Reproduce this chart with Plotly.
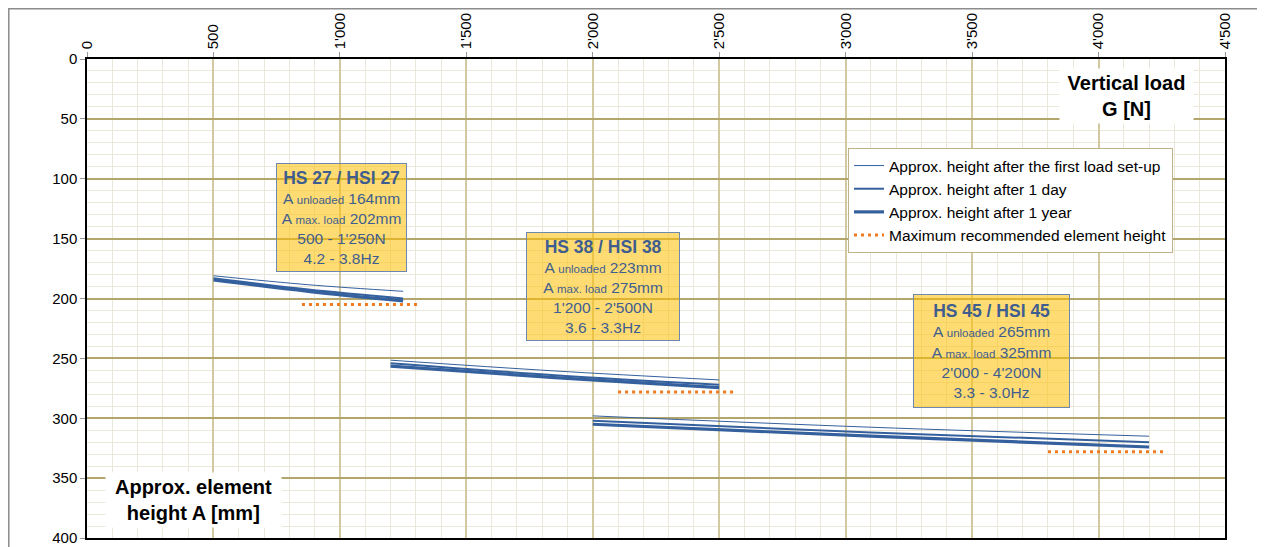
import plotly.graph_objects as go

# ---------------- data ----------------
load_27 = [500, 875, 1250]
first_27 = [181, 188.5, 194]
day_27 = [183, 192.5, 200]
year_27 = [184.5, 194, 202]

load_38 = [1200, 1850, 2500]
first_38 = [251.5, 260.5, 268]
day_38 = [254, 264, 272]
year_38 = [256.5, 266, 274.5]

load_45 = [2000, 3100, 4200]
first_45 = [298, 307.5, 315]
day_45 = [302, 312, 320]
year_45 = [305, 315, 324]

max_load_27 = [850, 1320]
max_height_27 = [205, 205]
max_load_38 = [2100, 2570]
max_height_38 = [278, 278]
max_load_45 = [3800, 4270]
max_height_45 = [328, 328]

x_tickvals = [0, 500, 1000, 1500, 2000, 2500, 3000, 3500, 4000, 4500]
x_ticktext = ["0", "500", "1'000", "1'500", "2'000", "2'500", "3'000", "3'500", "4'000", "4'500"]
y_tickvals = [0, 50, 100, 150, 200, 250, 300, 350, 400]

series_names = ["Approx. height after the first load set-up",
                "Approx. height after 1 day",
                "Approx. height after 1 year",
                "Maximum recommended element height"]

box_titles = ["HS 27 / HSI 27", "HS 38 / HSI 38", "HS 45 / HSI 45"]
box_unloaded = ["164mm", "223mm", "265mm"]
box_maxload = ["202mm", "275mm", "325mm"]
box_range = ["500 - 1'250N", "1'200 - 2'500N", "2'000 - 4'200N"]
box_freq = ["4.2 - 3.8Hz", "3.6 - 3.3Hz", "3.3 - 3.0Hz"]
box_x = [1008, 2042, 3578]
box_y = [132.5, 190, 244]

# ---------------- figure ----------------
FONT = "Liberation Sans, Arial, sans-serif"
BLUE = "#35609E"
ORANGE = "#EE7B22"
TXT = "#3F5E8F"

# page body has an 8px margin; figure is sized so the plot area lands
# where the reference has it
W, H = 1257, 539
L, T, R, B = 79, 51, 40, 9
PW, PH = W - L - R, H - T - B  # 1138 x 479

fig = go.Figure()

groups = [
    (load_27, first_27, day_27, year_27, max_load_27, max_height_27),
    (load_38, first_38, day_38, year_38, max_load_38, max_height_38),
    (load_45, first_45, day_45, year_45, max_load_45, max_height_45),
]
widths = [1, 2, 3.2]
for gi, (lx, f, d, yv, mx, my) in enumerate(groups):
    for si, ys in enumerate([f, d, yv]):
        fig.add_trace(go.Scatter(
            x=lx, y=ys, mode="lines", name=series_names[si],
            legendgroup=str(si), showlegend=(gi == 0),
            line=dict(color=BLUE, width=widths[si], shape="spline"),
            hoverinfo="skip"))
    fig.add_trace(go.Scatter(
        x=mx, y=my, mode="lines", name=series_names[3],
        legendgroup="3", showlegend=(gi == 0),
        line=dict(color=ORANGE, width=3, dash="3px,4px"),
        hoverinfo="skip"))

annotations = []
for i in range(3):
    txt = (f"<span style='font-size:17.5px'><b>{box_titles[i]}</b></span><br>"
           f"A <span style='font-size:11.5px'>unloaded</span> {box_unloaded[i]}<br>"
           f"A <span style='font-size:11.5px'>max. load</span> {box_maxload[i]}<br>"
           f"{box_range[i]}<br>{box_freq[i]}")
    w = [129, 152, 155][i]
    h = [107, 107, 112][i]
    annotations.append(dict(
        x=box_x[i], y=box_y[i], xref="x", yref="y", text=txt, showarrow=False,
        font=dict(family=FONT, size=15.5, color=TXT),
        bgcolor="rgba(255,192,0,0.55)", bordercolor="#6F88AE", borderwidth=1,
        width=w, height=h, align="center", valign="middle", borderpad=0))

annotations.append(dict(
    x=4112, y=31, xref="x", yref="y",
    text="<b>Vertical load<br>G [N]</b>", showarrow=False,
    font=dict(family=FONT, size=20, color="black"),
    bgcolor="white", width=133, height=54, borderpad=0))
annotations.append(dict(
    x=423, y=368, xref="x", yref="y",
    text="<b>Approx. element<br>height A [mm]</b>", showarrow=False,
    font=dict(family=FONT, size=20, color="black"),
    bgcolor="white", width=175, height=54, borderpad=0))

shapes = [
    dict(type="rect", xref="paper", yref="paper",
         x0=(0.8 - L) / PW, x1=(1254 - L) / PW,
         y0=-0.05, y1=1 + (T - 0.8) / PH,
         line=dict(color="#8C8C8C", width=1.5), layer="below"),
    dict(type="line", xref="paper", yref="paper",
         x0=(1255 - L) / PW, x1=(1255 - L) / PW,
         y0=-0.05, y1=1 + (T - 6) / PH,
         line=dict(color="#222222", width=2)),
]

fig.update_layout(
    width=W, height=H,
    margin=dict(l=L, r=R, t=T, b=B, autoexpand=False),
    paper_bgcolor="white", plot_bgcolor="white",
    font=dict(family=FONT, size=15, color="black"),
    showlegend=True,
    legend=dict(
        x=(848 - 87) / PW, y=1 - (148 - 59) / PH,
        xanchor="left", yanchor="top",
        bgcolor="white", bordercolor="#BFB38A", borderwidth=1,
        font=dict(family=FONT, size=15.5, color="black"),
        itemwidth=30, tracegroupgap=0, traceorder="normal"),
    annotations=annotations,
    shapes=shapes,
)

fig.update_xaxes(
    side="top", range=[0, 4500], tickvals=x_tickvals, ticktext=x_ticktext,
    tickangle=-90, ticks="outside", ticklen=5, tickcolor="#999999",
    tickfont=dict(family=FONT, size=15, color="black"),
    showgrid=True, gridcolor="#D3C9A0", gridwidth=1.5,
    minor=dict(dtick=100, showgrid=True, gridcolor="#ECE8D9", gridwidth=1, ticks=""),
    showline=True, linecolor="black", linewidth=1.5, mirror=True,
    zeroline=False, fixedrange=True, automargin=False)

fig.update_yaxes(
    range=[400, 0], tickvals=y_tickvals, ticks="outside", ticklen=5,
    tickcolor="#999999",
    tickfont=dict(family=FONT, size=15, color="black"),
    showgrid=True, gridcolor="#B3A66D", gridwidth=1.5,
    minor=dict(dtick=10, showgrid=True, gridcolor="#ECE8D9", gridwidth=1, ticks=""),
    showline=True, linecolor="black", linewidth=1.5, mirror=True,
    zeroline=False, fixedrange=True, automargin=False)

fig.write_html("out.html")
